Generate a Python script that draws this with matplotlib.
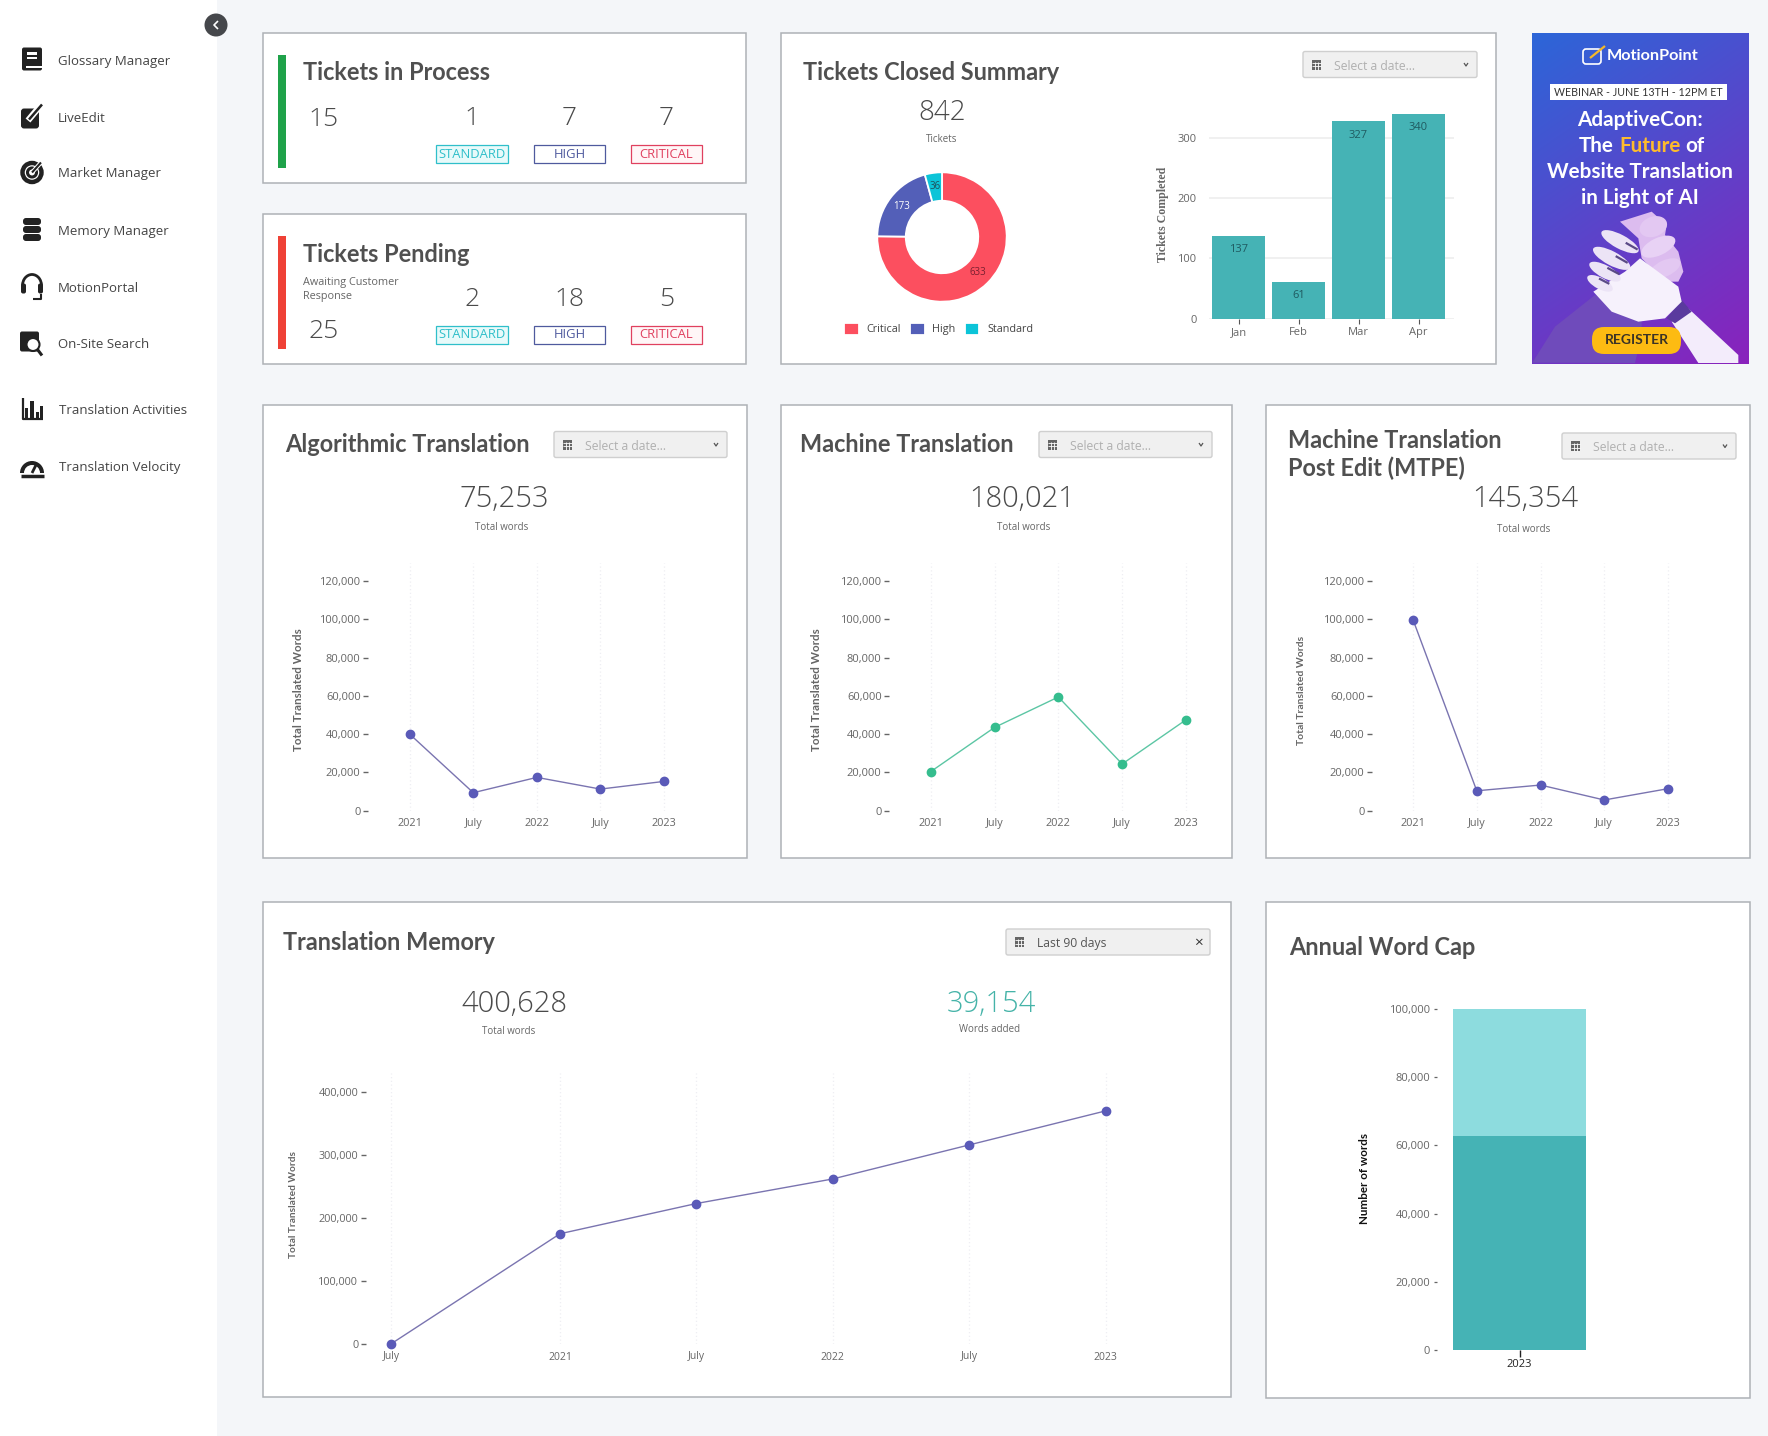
import numpy as np
import matplotlib
matplotlib.use("Agg")
import matplotlib.pyplot as plt
from matplotlib.patches import Rectangle, FancyBboxPatch, Circle, Polygon, Wedge, Arc, Ellipse
from matplotlib.ticker import FuncFormatter

# ---------- data ----------
alg_values = [40000, 9400, 17400, 11300, 15300]
mt_values = [20400, 43500, 59400, 24400, 47500]
mtpe_values = [99800, 10400, 13400, 5600, 11500]
half_year_labels = ["2021", "July", "2022", "July", "2023"]
word_ticks = [0, 20000, 40000, 60000, 80000, 100000, 120000]

tm_years = [2020.38, 2021.0, 2021.5, 2022.0, 2022.5, 2023.0]
tm_values = [0, 175000, 223000, 262000, 316000, 370000]
tm_labels = ["July", "2021", "July", "2022", "July", "2023"]
tm_ticks = [0, 100000, 200000, 300000, 400000]

donut_names = ["Critical", "High", "Standard"]
donut_values = [633, 173, 36]
donut_colors = ["#fc4f5f", "#535fb8", "#0cc4d8"]
donut_label_colors = ["#7a2030", "white", "#20505a"]

months = ["Jan", "Feb", "Mar", "Apr"]
closed_values = [137, 61, 327, 340]
closed_ticks = [0, 100, 200, 300]

cap_year = ["2023"]
cap_used = [62800]
cap_remaining = [37200]
cap_ticks = [0, 20000, 40000, 60000, 80000, 100000]

nav_items = ["Glossary Manager", "LiveEdit", "Market Manager", "Memory Manager",
             "MotionPortal", "On-Site Search", "Translation Activities", "Translation Velocity"]

# ---------- canvas ----------
W, H = 1768, 1436
BG = "#f4f6f9"
INK = "#505050"
GREY = "#666666"
NUM = "#4a4a4a"
TEAL = "#45b3b5"
PURPLE = "#5a5ab8"
fig = plt.figure(figsize=(W / 100, H / 100), dpi=100, facecolor=BG)
bg = fig.add_axes([0, 0, 1, 1], zorder=0)
bg.set_xlim(0, W)
bg.set_ylim(H, 0)
bg.axis("off")
TITLE = dict(family=["Lato", "DejaVu Sans"], weight="bold", color=INK, va="center", ha="left")
TSIZE = 16.95
OPEN = ["Open Sans", "DejaVu Sans"]
LATO = ["Lato", "DejaVu Sans"]


def txt(x, y, s, size, color=INK, ha="center", weight="normal", family=OPEN, dy=1.5, **kw):
    return bg.text(x, y + dy, s, fontsize=size, color=color, ha=ha, va="center", weight=weight, family=family, **kw)


def num(x, y, s, size=21, color=NUM):
    return txt(x, y, s, size, color, weight="light", dy=3, zorder=3)


def panel(l, r, t, b):
    bg.add_patch(Rectangle((l, t), r - l, b - t, fc="white", ec="#aeb1b6", lw=1.1, zorder=1))


def rbox(l, r, t, b, fc, ec="none", lw=0, rad=2, z=2):
    bg.add_patch(FancyBboxPatch((l + rad, t + rad), r - l - 2 * rad, b - t - 2 * rad,
                                boxstyle=f"round,pad={rad}", fc=fc, ec=ec, lw=lw, zorder=z))


def line(xs, ys, c="#222222", lw=1.0, z=3, **kw):
    bg.plot(xs, ys, color=c, lw=lw, zorder=z, solid_capstyle=kw.pop("cap", "butt"), **kw)


def date_box(l, r, t, b, label="Select a date...", color="#b0b0b0", close=False):
    rbox(l, r, t, b, "#f0f0f0", "#cfcfcf", 1.0)
    ym = (t + b) / 2
    bg.add_patch(Rectangle((l + 9, ym - 5), 9, 10, fc="#666666", ec="none", zorder=3))
    for k in (1, 2):
        line([l + 9, l + 18], [ym - 5 + 3.3 * k] * 2, "white", 0.6)
        line([l + 9 + 3 * k] * 2, [ym - 3, ym + 5], "white", 0.6)
    txt(l + 31, ym, label, 8.7, color, ha="left", zorder=3)
    if close:
        txt(r - 12, ym, "×", 11, "#333333", zorder=3)
    else:
        line([r - 13, r - 11, r - 9], [ym - 1.5, ym + 1.5, ym - 1.5], "#555555", 0.9)


# ---------- sidebar ----------
bg.add_patch(Rectangle((0, 0), 217, H, fc="white", ec="none", zorder=1))
bg.add_patch(Circle((216, 25), 11.5, fc="#45474b", ec="none", zorder=4))
line([218, 214, 218], [21, 25, 29], "white", 1.2, z=5)
nav_y = [59.5, 116.5, 172.5, 229.5, 286.5, 342.5, 409, 466]
nav_x = [58, 58, 58, 58, 58, 58, 59, 59]
for name, x, y in zip(nav_items, nav_x, nav_y):
    txt(x, y, name, 9.5, "#444444", ha="left", zorder=3)

D = "#222222"
y = nav_y[0]
rbox(22, 42, y - 12, y + 11, D, rad=2, z=3)
for a, b in ((y - 8, y - 5), (y - 3, y - 1)):
    bg.add_patch(Rectangle((27, a), 10, b - a, fc="white", zorder=4))
bg.add_patch(Rectangle((26, y + 6), 16, 2, fc="white", zorder=4))
y = nav_y[1]
rbox(21, 39, y - 8, y + 12, D, rad=3, z=3)
line([28, 38], [y + 4, y - 8], "white", 4.5, z=4)
line([29, 42], [y + 3, y - 12], D, 1.8, z=5)
y = nav_y[2]
bg.add_patch(Circle((32, y), 9.5, fc="none", ec=D, lw=3.2, zorder=3))
bg.add_patch(Circle((32, y), 4.5, fc="none", ec=D, lw=2.2, zorder=3))
line([32, 41], [y, y - 10], "white", 3, z=4)
line([32, 41], [y, y - 10], D, 1.5, z=5)
y = nav_y[3]
for dy in (-8, 0, 8):
    rbox(23, 41, y + dy - 3.5, y + dy + 3.5, D, rad=3, z=3)
y = nav_y[4]
bg.add_patch(Arc((32, y - 1), 19, 22, theta1=180, theta2=360, ec=D, lw=2, zorder=3))
rbox(21, 26, y - 3, y + 7, D, rad=2, z=3)
rbox(38, 43, y - 3, y + 7, D, rad=2, z=3)
line([41, 41, 33], [y + 7, y + 12, y + 12], D, 1.5)
y = nav_y[5]
rbox(20, 39, y - 11, y + 9, D, rad=2, z=3)
bg.add_patch(Circle((33, y + 2), 6.5, fc="white", ec=D, lw=1.5, zorder=4))
line([37.5, 42], [y + 7, y + 13], D, 2.2, z=4)
y = nav_y[6]
line([22.5, 22.5, 43], [y - 11, y + 10, y + 10], D, 1.6)
for a, b, h in ((25, 28, 10), (30, 34, 17), (36, 39, 6), (40, 43, 12)):
    bg.add_patch(Rectangle((a, y + 9 - h), b - a, h, fc=D, zorder=3))
y = nav_y[7]
bg.add_patch(Wedge((32, y + 7), 12, 180, 360, fc=D, ec="none", zorder=3))
bg.add_patch(Wedge((32, y + 7), 8, 180, 360, fc="white", ec="none", zorder=4))
line([32, 37], [y + 7, y - 3], D, 2, z=5)
line([21, 44], [y + 9.5, y + 9.5], D, 2.5)

# ---------- ticket panels ----------
badge_colors = [("#2fbfca", "#e8fafa"), ("#4f5a9e", "#ffffff"), ("#e0405f", "#fff6f7")]
badge_names = ["STANDARD", "HIGH", "CRITICAL"]
badge_l = [436, 534, 631]
badge_r = [508, 605, 702]


def tickets(top, bot, barc, title, title_y, total, total_y, counts, num_y, badge_t):
    panel(262.5, 746, top, bot)
    bg.add_patch(Rectangle((278, top + 22), 8, 113, fc=barc, zorder=2))
    bg.text(303, title_y, title, fontsize=TSIZE, zorder=3, **TITLE)
    num(324, total_y, total, 19)
    for n, l, r, name, (ec, fc) in zip(counts, badge_l, badge_r, badge_names, badge_colors):
        num((l + r) / 2, num_y, n, 19)
        bg.add_patch(Rectangle((l, badge_t), r - l, 18, fc=fc, ec=ec, lw=0.9, zorder=2))
        txt((l + r) / 2, badge_t + 9, name, 9.4, ec, zorder=3, dy=0)


tickets(33, 183, "#1fa24a", "Tickets in Process", 73, "15", 116.5, ["1", "7", "7"], 115.5, 145)
tickets(214, 364, "#ef4136", "Tickets Pending", 255, "25", 328.5, ["2", "18", "5"], 296.5, 326)
txt(303, 281, "Awaiting Customer", 7.8, GREY, ha="left", zorder=3)
txt(303, 293.5, "Response", 7.8, GREY, ha="left", zorder=3, dy=2.5)

# ---------- tickets closed summary ----------
panel(780.5, 1496, 32.5, 364)
bg.text(803, 72, "Tickets Closed Summary", fontsize=TSIZE, zorder=3, **TITLE)
date_box(1303, 1477, 51.5, 77.5)
num(942, 110, "842", 20)
txt(942, 138.5, "Tickets", 7, GREY, zorder=3)


def px_axes(l, r, t, b):
    ax = fig.add_axes([l / W, 1 - b / H, (r - l) / W, (b - t) / H], zorder=2)
    ax.patch.set_alpha(0)
    for s in ax.spines.values():
        s.set_visible(False)
    return ax


def place_ylabel(ax, x, y):
    ax.yaxis.label.set_va("center")
    ax.yaxis.set_label_coords(x, y, transform=bg.transData)


R = 64.7
dax = px_axes(942 - R, 942 + R, 237 - R, 237 + R)
wedges, labs = dax.pie(donut_values, colors=donut_colors, startangle=90, counterclock=False,
                       radius=1, labels=[str(v) for v in donut_values], labeldistance=0.78,
                       wedgeprops=dict(width=0.44, edgecolor="white", linewidth=1.3))
for t, c in zip(labs, donut_label_colors):
    t.set(color=c, fontsize=7, ha="center", va="center", family=OPEN)
dax.set_xlim(-1, 1)
dax.set_ylim(-1, 1)
dax.legend(wedges, donut_names, ncol=3, frameon=False, loc="upper left",
           bbox_to_anchor=(844, 322.5), bbox_transform=bg.transData, borderpad=0, borderaxespad=0,
           handlelength=1.35, handleheight=1.38, handletextpad=0.72, columnspacing=0.84,
           prop=dict(family=OPEN, size=7.8), labelcolor="#444444")

bax = px_axes(1209, 1454, 105, 318.7)
bx = np.arange(len(months))
bax.bar(bx, closed_values, width=0.89, color=TEAL, zorder=3)
bax.set_xlim((1209 - 1238.5) / 60, (1454 - 1238.5) / 60)
bax.set_ylim(0, (318.7 - 105) * 300 / 181)
bax.set_xticks(bx, months)
bax.set_yticks(closed_ticks)
bax.grid(axis="y", color="#eeeeee", lw=1.2, zorder=0)
bax.tick_params(axis="x", length=3.8, width=0.8, color="#555555", pad=2.2, labelsize=8, labelcolor=GREY)
bax.tick_params(axis="y", length=0, pad=9, labelsize=8, labelcolor=GREY)
for v, xp in zip(closed_values, bx):
    bax.annotate(str(v), (xp, v), xytext=(0, -10), textcoords="offset points", ha="center", va="center",
                 fontsize=8, color="#1f5a60", family=OPEN, clip_on=False, zorder=5)
bax.set_ylabel("Tickets Completed", fontsize=8.6, color=GREY, weight="bold", family=["Liberation Serif"])
place_ylabel(bax, 1163, 214)
for t in bax.get_xticklabels() + bax.get_yticklabels():
    t.set_family(OPEN)

# ---------- ad ----------
ax_l, ax_r, ax_t, ax_b = 1532, 1749, 33, 364
gx, gy = np.meshgrid(np.linspace(0, 1, 120), np.linspace(0, 1, 160))
g = np.clip((0.45 * gx + gy) / 1.45, 0, 1)[..., None]
c0 = np.array([0x2c, 0x66, 0xd8]) / 255
c1 = np.array([0x8a, 0x22, 0xbc]) / 255
bg.imshow(c0 * (1 - g) + c1 * g, extent=(ax_l, ax_r, ax_b, ax_t), aspect="auto", zorder=1, interpolation="bilinear")
bg.set_xlim(0, W)
bg.set_ylim(H, 0)


def zp(points):
    return [(1525 + a / 3, 25 + b / 3) for a, b in points]


def blob(a, b, w, h, angle, fc, z):
    (xc, yc), = zp([(a, b)])
    bg.add_patch(Ellipse((xc, yc), w / 3, h / 3, angle=angle, fc=fc, ec="none", zorder=z))


# hands (picture decoration of the advert)
bg.add_patch(Polygon(zp([(22, 1013), (90, 905), (210, 810), (350, 880), (350, 930), (330, 1014)]), fc="#6f4bbb", zorder=2))
bg.add_patch(Polygon(zp([(490, 850), (640, 990), (640, 1014), (520, 1014), (440, 890)]), fc="#f3ecfb", zorder=2))
bg.add_patch(Polygon(zp([(470, 825), (500, 860), (450, 895), (425, 880)]), fc="#5a3a9e", zorder=5))
# human fingers
bg.add_patch(Polygon(zp([(285, 590), (380, 560), (425, 600), (420, 630), (460, 680), (475, 740), (460, 770),
                         (420, 770), (350, 700), (340, 640)]), fc="#dcbcef", zorder=3))
blob(385, 605, 85, 60, -20, "#e3c8f2", 4)
blob(400, 665, 110, 52, -25, "#e8d2f5", 4)
blob(420, 730, 100, 48, -25, "#e3c8f2", 4)
# robot hand
bg.add_patch(Polygon(zp([(345, 700), (460, 785), (470, 830), (420, 880), (340, 890), (260, 860), (205, 800), (300, 740)]),
                     fc="#f6f1fc", zorder=5))
for a, b, w, h, ang in ((285, 650, 125, 42, 28), (260, 700, 125, 42, 28), (240, 740, 105, 38, 28), (225, 775, 85, 34, 28)):
    blob(a, b, w, h, ang, "#ece4f6", 6)
for a, b in (((305, 655), (335, 672)), ((275, 695), (305, 712)), ((250, 730), (280, 746)), ((225, 762), (250, 775))):
    bg.plot(*zip(*zp([a, b])), color="#5a4a86", lw=1.6, zorder=7)

rbox(1592, 1681, 327, 354, "#fdbb12", rad=12, z=8)
txt(1636.5, 340, "REGISTER", 10, "#3a3226", weight="bold", family=LATO, zorder=9, dy=0)
bg.add_patch(Rectangle((1550, 84), 177, 16, fc="white", zorder=3))
txt(1638.5, 92, "WEBINAR - JUNE 13TH - 12PM ET", 7.7, "#333333", family=LATO, zorder=4, dy=0)
txt(1653, 54, "MotionPoint", 11.7, "white", weight="bold", family=LATO, zorder=4)
rbox(1583, 1601, 49, 64, "none", "white", 1.2, rad=3, z=4)
line([1590, 1605], [58, 46], "#f5b92a", 1.6, z=5)
for s, y in (("AdaptiveCon:", 118), ("Website Translation", 171), ("in Light of AI", 197)):
    txt(1640, y, s, 14.9, "white", weight="bold", family=LATO, zorder=4)
for s, xp, c in (("The", 1579, "white"), ("Future", 1619, "#fdbb2d"), ("of", 1685, "white")):
    txt(xp, 144, s, 14.9, c, ha="left", weight="bold", family=LATO, zorder=4)


# ---------- word line charts ----------
def style_line_axes(ax, ylabel, label_x, label_y, size=8.4, fam=LATO):
    ax.xaxis.grid(True, color="#eeeef3", lw=0.9, ls=(0, (1, 2)), zorder=0)
    ax.yaxis.grid(False)
    ax.yaxis.set_major_formatter(FuncFormatter(lambda v, _: f"{int(v):,}"))
    ax.tick_params(axis="x", length=0, pad=5.4, labelsize=7.8, labelcolor=GREY)
    ax.tick_params(axis="y", length=3.8, width=1.0, color=GREY, pad=1.5, labelsize=8.0, labelcolor=GREY)
    ax.set_ylabel(ylabel, fontsize=size, color=GREY, weight="bold", family=fam)
    place_ylabel(ax, label_x, label_y)
    for t in ax.get_xticklabels() + ax.get_yticklabels():
        t.set_family(OPEN)


def word_chart(values, color, line_color, tick_right, x0, x1, label_x, size=8.4):
    ax = px_axes(tick_right, x1 + 26, 563, 810.7)
    xs = np.arange(len(values))
    ax.plot(xs, values, color=line_color, lw=1.0, marker="o", ms=6, mfc=color, mec=color, clip_on=False, zorder=3)
    dx = (x1 - x0) / (len(values) - 1)
    ax.set_xlim((tick_right - x0) / dx, (x1 + 26 - x0) / dx)
    ax.set_ylim(0, (810.7 - 563) * 120000 / (810.7 - 581))
    ax.set_xticks(xs, half_year_labels)
    ax.set_yticks(word_ticks)
    style_line_axes(ax, "Total Translated Words", label_x, 690, size=size)
    return ax


panel(262.5, 747, 405, 858)
bg.text(285, 444, "Algorithmic Translation", fontsize=TSIZE, zorder=3, **TITLE)
date_box(554, 727, 431.5, 457.5)
num(504, 496, "75,253")
txt(502, 526, "Total words", 7, GREY, zorder=3)
word_chart(alg_values, PURPLE, "#7a74b0", 368, 409.7, 664, 298)

panel(780.5, 1232, 405, 858)
bg.text(800.5, 444, "Machine Translation", fontsize=TSIZE, zorder=3, **TITLE)
date_box(1039, 1212, 431.5, 457.5)
num(1022, 496, "180,021")
txt(1024, 526, "Total words", 7, GREY, zorder=3)
word_chart(mt_values, "#35bd8e", "#5cc6a4", 889, 930.7, 1186, 816)

panel(1265.5, 1750, 405, 858)
bg.text(1288, 441, "Machine Translation", fontsize=TSIZE, zorder=3, **TITLE)
bg.text(1288, 468, "Post Edit (MTPE)", fontsize=TSIZE, zorder=3, **TITLE)
date_box(1562, 1736, 433, 459)
num(1525.7, 496, "145,354")
txt(1524, 528, "Total words", 7, GREY, zorder=3)
word_chart(mtpe_values, PURPLE, "#7a74b0", 1372, 1413, 1668, 1301, size=7.5)

# ---------- translation memory ----------
panel(262.5, 1231, 902, 1397)
bg.text(283, 942, "Translation Memory", fontsize=TSIZE, zorder=3, **TITLE)
date_box(1006, 1210, 929, 955, "Last 90 days", "#555555", close=True)
num(514, 1001.5, "400,628")
txt(509, 1030, "Total words", 7, GREY, zorder=3)
num(991, 1001.5, "39,154", color="#45b3a8")
txt(989.4, 1028, "Words added", 7, GREY, zorder=3)
tax = px_axes(366, 1130, 1073, 1344)
tax.plot(tm_years, tm_values, color="#7a74b0", lw=1.0, marker="o", ms=6, mfc=PURPLE, mec=PURPLE, clip_on=False, zorder=3)
per_year = (1105.6 - 560) / 2
tax.set_xlim(2021 + (366 - 560) / per_year, 2021 + (1130 - 560) / per_year)
tax.set_ylim(0, (1344 - 1073) * 400000 / (1344 - 1092))
tax.set_xticks(tm_years, tm_labels)
tax.set_yticks(tm_ticks)
style_line_axes(tax, "Total Translated Words", 293, 1204, size=7.3)
tax.tick_params(axis="x", labelsize=7.5, pad=5.4)
tax.tick_params(axis="y", labelsize=7.8, pad=1.8)

# ---------- annual word cap ----------
panel(1265.5, 1750, 902, 1398)
bg.text(1289.5, 947.5, "Annual Word Cap", fontsize=TSIZE, zorder=3, **TITLE)
cax = px_axes(1437, 1600, 1000, 1350)
cax.bar(cap_year, cap_used, width=1, color=TEAL, zorder=3)
cax.bar(cap_year, cap_remaining, width=1, bottom=cap_used, color="#8ddcde", zorder=3)
cax.set_xlim((1437 - 1519.5) / 133, (1600 - 1519.5) / 133)
cax.set_ylim(0, 350 * 100000 / 341)
cax.set_yticks(cap_ticks)
cax.yaxis.set_major_formatter(FuncFormatter(lambda v, _: f"{int(v):,}"))
cax.tick_params(axis="x", length=5, width=1, color="#222222", pad=1.5, labelsize=8, labelcolor="#222222")
cax.tick_params(axis="y", length=2.4, width=0.9, color=GREY, pad=2.4, labelsize=8.0, labelcolor=GREY)
cax.set_ylabel("Number of words", fontsize=8.4, color="#111111", weight="bold", family=LATO)
place_ylabel(cax, 1364, 1178)
for t in cax.get_xticklabels() + cax.get_yticklabels():
    t.set_family(OPEN)

fig.savefig("out.png", dpi=100, facecolor=BG)
